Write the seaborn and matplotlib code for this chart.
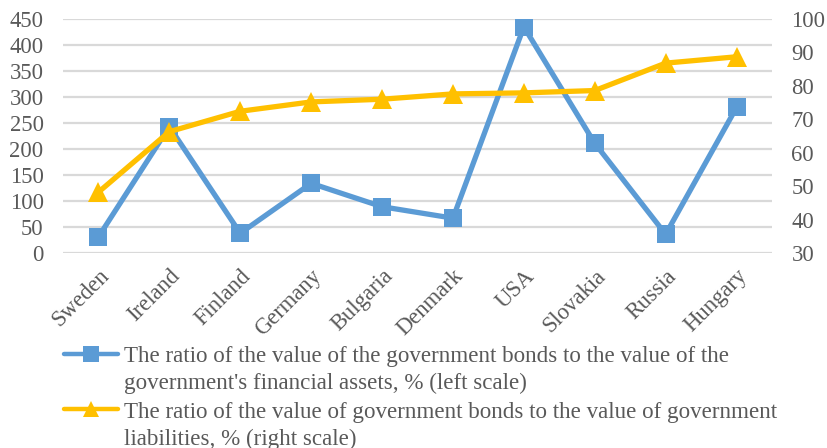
import matplotlib
matplotlib.use("Agg")
import matplotlib.pyplot as plt
import seaborn as sns
import pandas as pd
import numpy as np
from matplotlib.lines import Line2D

countries = ["Sweden", "Ireland", "Finland", "Germany", "Bulgaria",
             "Denmark", "USA", "Slovakia", "Russia", "Hungary"]
bonds_to_assets = [31, 243, 38, 134, 89, 67, 435, 211, 36, 280]
bonds_to_liabilities = [48.2, 66.3, 72.4, 75.2, 76.0, 77.6, 77.9, 78.6, 86.8, 88.7]

left_ticks = list(range(0, 451, 50))
right_ticks = list(range(30, 101, 10))

label_assets = ["The ratio of the value of the government bonds to the value of the",
                "government's financial assets, % (left scale)"]
label_liab = ["The ratio of the value of government bonds to the value of government",
              "liabilities, % (right scale)"]

BLUE = "#5B9BD5"
YELLOW = "#FFC000"
GREY = "#595959"
GRID = "#D9D9D9"

sns.set_theme(style="white")
plt.rcParams["font.family"] = ["Liberation Serif", "DejaVu Serif"]

df = pd.DataFrame({
    "pos": np.arange(len(countries)),
    "assets": bonds_to_assets,
    "liab": bonds_to_liabilities,
})

W, H = 827.0, 448.0
fig = plt.figure(figsize=(W / 100, H / 100), dpi=100)
left, right, top, bottom = 63, 772, 19, 253
ax = fig.add_axes([left / W, 1 - bottom / H, (right - left) / W, (bottom - top) / H])
ax2 = ax.twinx()

sns.lineplot(data=df, x="pos", y="assets", ax=ax, color=BLUE, linewidth=3.8,
             marker="s", markersize=13, markeredgewidth=0, legend=False)
sns.lineplot(data=df, x="pos", y="liab", ax=ax2, color=YELLOW, linewidth=3.8,
             marker="^", markersize=14, markeredgewidth=0, legend=False)

ax.set_xlim(-0.5, len(countries) - 0.5)
ax.set_ylim(0, 450)
ax2.set_ylim(30, 100)
ax.set_yticks(left_ticks)
ax2.set_yticks(right_ticks)
ax.set_xticks(df["pos"])
ax.set_xticklabels(countries, rotation=45, ha="right", rotation_mode="anchor")

for a in (ax, ax2):
    for s in a.spines.values():
        s.set_visible(False)
    a.set_xlabel("")
    a.set_ylabel("")
    a.tick_params(length=0, labelsize=16.3, colors=GREY)
ax.tick_params(axis="x", pad=9)
ax.tick_params(axis="y", pad=14)
ax2.tick_params(axis="y", pad=14)

ax.yaxis.grid(True, color=GRID, linewidth=1.6)
ax.xaxis.grid(False)
ax2.grid(False)
ax.set_axisbelow(True)

# legend drawn below the plot, one text line at a time
rows = [(BLUE, "s", label_assets, 354, 362), (YELLOW, "^", label_liab, 409, 418)]
for color, mk, lines, yhandle, ybase in rows:
    yf = 1 - yhandle / H
    fig.add_artist(Line2D([64 / W, 118 / W], [yf, yf], color=color, linewidth=3.2,
                          solid_capstyle="round", transform=fig.transFigure))
    fig.add_artist(Line2D([91 / W], [yf], color=color, marker=mk, markersize=11,
                          markeredgewidth=0, transform=fig.transFigure))
    for i, line in enumerate(lines):
        fig.text(124 / W, 1 - (ybase + 26.5 * i) / H, line, color=GREY,
                 fontsize=16.6, ha="left", va="baseline")

fig.savefig("out.png", dpi=100)
